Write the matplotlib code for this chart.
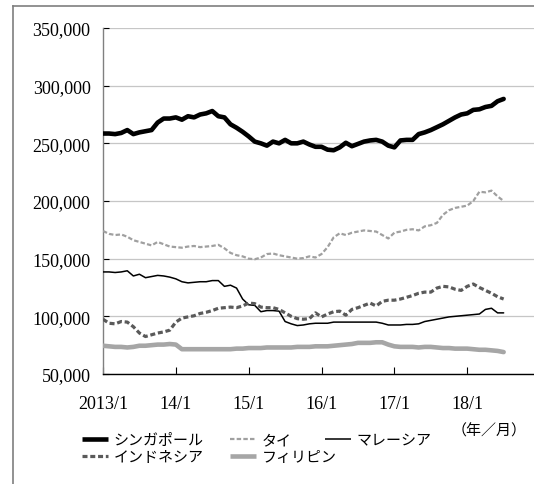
import numpy as np
import matplotlib
matplotlib.use("Agg")
import matplotlib.pyplot as plt
from matplotlib.lines import Line2D
from matplotlib.ticker import FuncFormatter

# ---- data (thousand persons), monthly 2013/1 .. 2018/7 ----
singapore = [258.5, 258.5, 258, 259, 261.5, 258, 259.5, 260.5, 261.5, 268, 271.5, 271.5,
             272.5, 270.5, 273.5, 272.5, 275, 276, 278, 273.5, 272.5, 266.5, 263.5, 260,
             256, 251.5, 250, 248, 251.5, 250, 253, 250, 250, 251.5, 249, 247,
             247, 244.5, 244, 246.5, 250.5, 247.5, 249.5, 251.5, 252.5, 253, 251.5, 248,
             246.5, 252.5, 253, 253, 258, 259.5, 261.5, 264, 266.5, 269.5, 272.5, 275,
             276, 279, 279.5, 281.5, 282.5, 286.5, 288.5]
thailand = [174, 171.5, 170.5, 171, 169, 166, 164.5, 163, 161.5, 164.5, 162.5, 160.5,
            160, 159.5, 160.5, 161, 160, 160.5, 161, 162, 159, 155, 153, 152,
            150, 149.5, 151, 154, 154.5, 153, 152, 151, 150, 150.5, 152, 151,
            154, 160, 168.5, 172, 170.5, 172.5, 173.5, 174.5, 174, 173.5, 170.5, 167.5,
            172.5, 173.5, 175, 175.5, 174.5, 178, 179, 181, 188, 192, 194, 195,
            196, 200, 208, 207.5, 209, 204, 200]
malaysia = [138.5, 138.5, 138, 138.5, 139.5, 135, 136.5, 133.5, 134.5, 135.5, 135, 134,
            132.5, 130, 129, 129.5, 130, 130, 131, 131, 126, 127, 124.5, 115,
            110, 109.5, 104, 105, 105, 104.5, 95.5, 93.5, 92, 92.5, 93.5, 94,
            94, 94, 95, 95, 95, 95, 95, 95, 95, 95, 94, 92.5,
            92.5, 92.5, 93, 93, 93.5, 95.5, 96.5, 97.5, 98.5, 99.5, 100, 100.5,
            101, 101.5, 102, 106, 107, 103, 103]
indonesia = [97.5, 94, 93.5, 95.5, 95, 91, 85.5, 82.5, 84, 85.5, 86.5, 88,
             95, 98.5, 99.5, 100.5, 102.5, 103.5, 105, 107, 107.5, 108, 107.5, 109,
             111.5, 111, 108, 107.5, 107.5, 106, 103, 100, 98, 97.5, 98, 103,
             99.5, 102, 104, 104.5, 101, 106, 107.5, 109.5, 111.5, 109, 113, 114,
             114, 115, 116.5, 118, 120, 121, 121, 124.5, 126, 125.5, 123.5, 122.5,
             126, 128, 125, 122.5, 120, 117, 115]
philippines = [74.5, 74, 73.5, 73.5, 73, 73.5, 74.5, 74.5, 75, 75.5, 75.5, 76,
               75.5, 71.5, 71.5, 71.5, 71.5, 71.5, 71.5, 71.5, 71.5, 71.5, 72, 72,
               72.5, 72.5, 72.5, 73, 73, 73, 73, 73, 73.5, 73.5, 73.5, 74,
               74, 74, 74.5, 75, 75.5, 76, 77, 77, 77, 77.5, 77.5, 75.5,
               74, 73.5, 73.5, 73.5, 73, 73.5, 73.5, 73, 72.5, 72.5, 72, 72,
               72, 71.5, 71, 71, 70.5, 70, 69]

series_names = ["シンガポール", "タイ", "マレーシア", "インドネシア", "フィリピン"]
tick_positions = [0, 12, 24, 36, 48, 60]
tick_labels = ["2013/1", "14/1", "15/1", "16/1", "17/1", "18/1"]
y_ticks = [50000, 100000, 150000, 200000, 250000, 300000, 350000]

plt.rcParams["lines.scale_dashes"] = False
SERIF = ["Liberation Serif", "DejaVu Serif"]
JP = ["Noto Sans CJK JP", "DejaVu Sans"]

W, H = 534, 485
fig = plt.figure(figsize=(W / 100, H / 100), dpi=100)
ax = fig.add_axes([103 / W, (H - 375) / H, (W - 103) / W, (375 - 29) / H])

x = np.arange(len(singapore))
styles = {
    "シンガポール": dict(color="black", lw=3.3, ls="-"),
    "タイ": dict(color="#a0a0a0", lw=1.6, dashes=(3.2, 1.6)),
    "マレーシア": dict(color="black", lw=1.1, ls="-"),
    "インドネシア": dict(color="#5a5a5a", lw=2.3, dashes=(3.6, 2.0)),
    "フィリピン": dict(color="#a6a6a6", lw=3.3, ls="-"),
}
data = {
    "シンガポール": singapore,
    "タイ": thailand,
    "マレーシア": malaysia,
    "インドネシア": indonesia,
    "フィリピン": philippines,
}
for name in series_names:
    vals = np.array(data[name]) * 1000
    ax.plot(x, vals, solid_joinstyle="round", solid_capstyle="round",
            dash_capstyle="butt", zorder=3, **styles[name])

ax.set_ylim(50000, 350000)
ax.set_xlim(0, 71)
ax.set_yticks(y_ticks)
ax.yaxis.set_major_formatter(FuncFormatter(lambda v, p: f"{int(v):,}"))
ax.set_xticks(tick_positions)
ax.set_xticklabels(tick_labels)
ax.grid(axis="y", color="#c6c6c6", lw=0.9, zorder=0)
ax.set_axisbelow(True)

for s in ["top", "right"]:
    ax.spines[s].set_visible(False)
ax.spines["left"].set_color("#808080")
ax.spines["left"].set_linewidth(1.0)
ax.spines["bottom"].set_color("black")
ax.spines["bottom"].set_linewidth(1.0)

ax.tick_params(axis="x", direction="in", length=5, width=0.8, pad=15, labelsize=13)
ax.tick_params(axis="y", direction="in", length=4, width=0.8, pad=9, labelsize=13)
for lab in ax.get_xticklabels() + ax.get_yticklabels():
    lab.set_family(SERIF)

# legend, laid out in three columns as in the reference
def handle(name):
    st = dict(styles[name])
    return Line2D([0], [0], solid_capstyle="butt", **st)

cols = [(82, ["シンガポール", "インドネシア"]), (230, ["タイ", "フィリピン"]), (325, ["マレーシア"])]
for xpx, names in cols:
    leg = fig.legend([handle(n) for n in names], names, loc="upper left",
                     bbox_to_anchor=(xpx / W, 1 - 434 / H), frameon=False,
                     prop={"family": JP, "size": 10.8}, handlelength=1.75,
                     handletextpad=0.35, labelspacing=0.2, borderpad=0,
                     borderaxespad=0)

fig.text(452 / W, 1 - 431 / H, "（年／月）", family=JP, fontsize=10.8,
         ha="left", va="center")

# outer frame (partially cropped in the reference)
frame_kw = dict(color="#7f7f7f", lw=1.2, transform=fig.transFigure)
fig.add_artist(Line2D([13 / W, 13 / W], [0, 1 - 7 / H], **frame_kw))
fig.add_artist(Line2D([13 / W, 1], [1 - 7 / H, 1 - 7 / H], **frame_kw))

fig.savefig("out.png", dpi=100)
